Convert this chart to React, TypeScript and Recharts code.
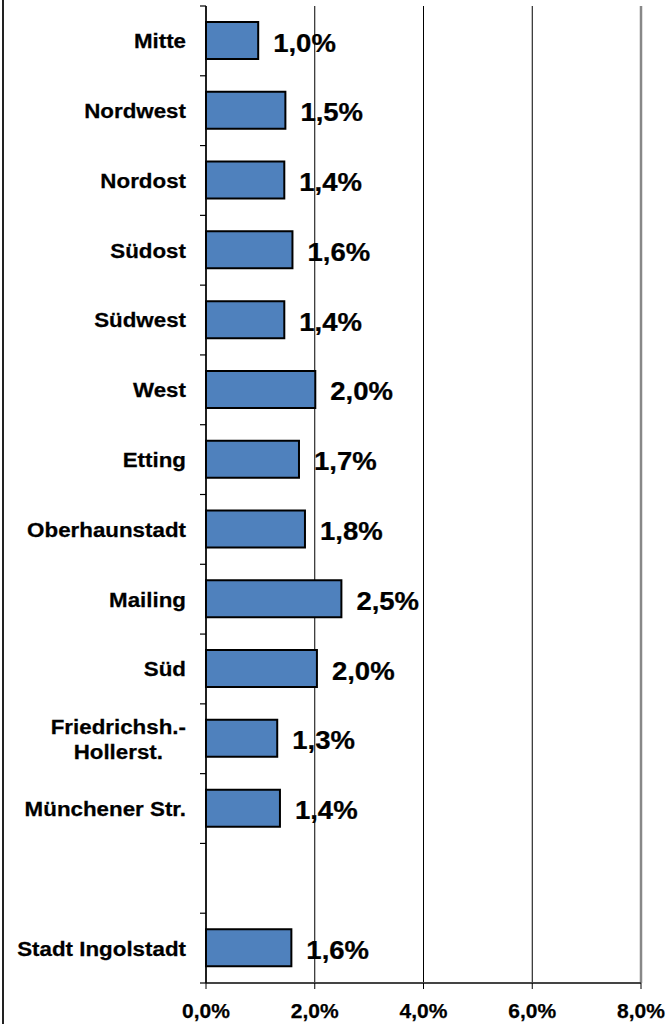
import React from "react";
import {
  BarChart,
  Bar,
  XAxis,
  YAxis,
  CartesianGrid,
  ReferenceLine,
  LabelList,
} from "recharts";

const categories = [
  "Mitte",
  "Nordwest",
  "Nordost",
  "Südost",
  "Südwest",
  "West",
  "Etting",
  "Oberhaunstadt",
  "Mailing",
  "Süd",
  "Friedrichsh.-\nHollerst.",
  "Münchener Str.",
  "",
  "Stadt Ingolstadt",
];

const values: (number | null)[] = [
  0.96, 1.46, 1.44, 1.59, 1.44, 2.01, 1.71, 1.82, 2.49, 2.04, 1.31, 1.36, null, 1.57,
];

const xTicks = [0, 2, 4, 6, 8];

const data = categories.map((name, i) => ({ name, value: values[i] }));

const W = 670;
const H = 1024;
const M_TOP = 6;
const X_AXIS_H = 41;
const Y_AXIS_W = 206;
const M_RIGHT = 29;
const FONT = "'Liberation Sans', Arial, Helvetica, sans-serif";
const BAND = (H - M_TOP - X_AXIS_H) / categories.length;

const fmt = (v: number) => v.toFixed(1).replace(".", ",") + "%";

let ctx: CanvasRenderingContext2D | null = null;
function measure(text: string, size: number) {
  if (!ctx) {
    const c = document.createElement("canvas");
    ctx = c.getContext("2d");
  }
  if (!ctx) return text.length * size * 0.6;
  ctx.font = `bold ${size}px ${FONT}`;
  return ctx.measureText(text).width;
}

const CAT_SIZE = 20.5;
const CAT_SX = 1.09;
const TEXT_STROKE = { stroke: "#000", strokeWidth: 0.25 };

const YTick = (props: any) => {
  const { x, y, payload, index } = props;
  const label: string = payload.value ?? "";
  const lines = label.split("\n");
  const right = x - 20;
  const elems: React.ReactNode[] = [];
  elems.push(
    <line key="t" x1={x - 6} x2={x} y1={y - BAND / 2} y2={y - BAND / 2} stroke="#000" strokeWidth={1.2} />
  );
  if (index === categories.length - 1) {
    elems.push(
      <line key="b" x1={x - 6} x2={x} y1={y + BAND / 2} y2={y + BAND / 2} stroke="#000" strokeWidth={1.2} />
    );
  }
  if (lines.length === 1) {
    elems.push(
      <text
        key="l"
        transform={`translate(${right},${y}) scale(${CAT_SX},1)`}
        x={0}
        y={0}
        dy="0.36em"
        textAnchor="end"
        fontFamily={FONT}
        fontWeight="bold"
        fontSize={CAT_SIZE}
        fill="#000"
        {...TEXT_STROKE}
      >
        {label}
      </text>
    );
  } else {
    const maxW = Math.max(...lines.map((l) => measure(l, CAT_SIZE))) * CAT_SX;
    const cx = right - maxW / 2;
    const lh = 25;
    const start = y - ((lines.length - 1) * lh) / 2;
    lines.forEach((l, i) => {
      elems.push(
        <text
          key={"l" + i}
          transform={`translate(${cx},${start + i * lh}) scale(${CAT_SX},1)`}
          x={0}
          y={0}
          dy="0.36em"
          textAnchor="middle"
          fontFamily={FONT}
          fontWeight="bold"
          fontSize={CAT_SIZE}
          fill="#000"
          {...TEXT_STROKE}
        >
          {l}
        </text>
      );
    });
  }
  return <g>{elems}</g>;
};

const XTick = (props: any) => {
  const { x, y, payload } = props;
  return (
    <text
      x={x}
      y={y + 12}
      dy="0.71em"
      textAnchor="middle"
      fontFamily={FONT}
      fontWeight="bold"
      fontSize={21}
      fill="#000"
      {...TEXT_STROKE}
    >
      {fmt(payload.value)}
    </text>
  );
};

const ValueLabel = (props: any) => {
  const { x, y, width, height, value } = props;
  if (value === null || value === undefined) return null;
  const tx = x + width + 15;
  const ty = y + height / 2 + 2;
  return (
    <text
      transform={`translate(${tx},${ty}) scale(1.1,1)`}
      x={0}
      y={0}
      dy="0.36em"
      textAnchor="start"
      fontFamily={FONT}
      fontWeight="bold"
      fontSize={25}
      fill="#000"
      {...TEXT_STROKE}
    >
      {fmt(value)}
    </text>
  );
};

export default function App() {
  return (
    <div style={{ position: "absolute", left: 0, top: 0, width: W, height: H, background: "#fff" }}>
      <div
        style={{
          position: "absolute",
          left: 2,
          top: 0,
          width: 0,
          height: H,
          borderLeft: "2px solid #222",
        }}
      />
      <BarChart
        width={W}
        height={H}
        data={data}
        layout="vertical"
        margin={{ top: M_TOP, right: M_RIGHT, bottom: 0, left: 0 }}
        barCategoryGap={0}
      >
        <CartesianGrid horizontal={false} vertical={true} stroke="#000" strokeWidth={1} />
        <XAxis
          type="number"
          domain={[0, 8]}
          ticks={xTicks}
          interval={0}
          height={X_AXIS_H}
          tickSize={6}
          tickLine={{ stroke: "#000", strokeWidth: 1 }}
          axisLine={{ stroke: "#444", strokeWidth: 2 }}
          tick={<XTick />}
        />
        <XAxis
          xAxisId="top"
          orientation="top"
          type="number"
          domain={[0, 8]}
          height={0}
          tick={false}
          tickLine={false}
          axisLine={{ stroke: "#888", strokeWidth: 2 }}
        />
        <YAxis
          type="category"
          dataKey="name"
          width={Y_AXIS_W}
          interval={0}
          tickSize={0}
          tickMargin={0}
          tickLine={false}
          axisLine={{ stroke: "#000", strokeWidth: 1.5 }}
          tick={<YTick />}
        />
        <ReferenceLine x={8} stroke="#888" strokeWidth={2.5} ifOverflow="visible" />
        <Bar
          dataKey="value"
          fill="#4F81BD"
          stroke="#000"
          strokeWidth={2}
          barSize={37}
          isAnimationActive={false}
        >
          <LabelList dataKey="value" content={<ValueLabel />} />
        </Bar>
      </BarChart>
    </div>
  );
}
